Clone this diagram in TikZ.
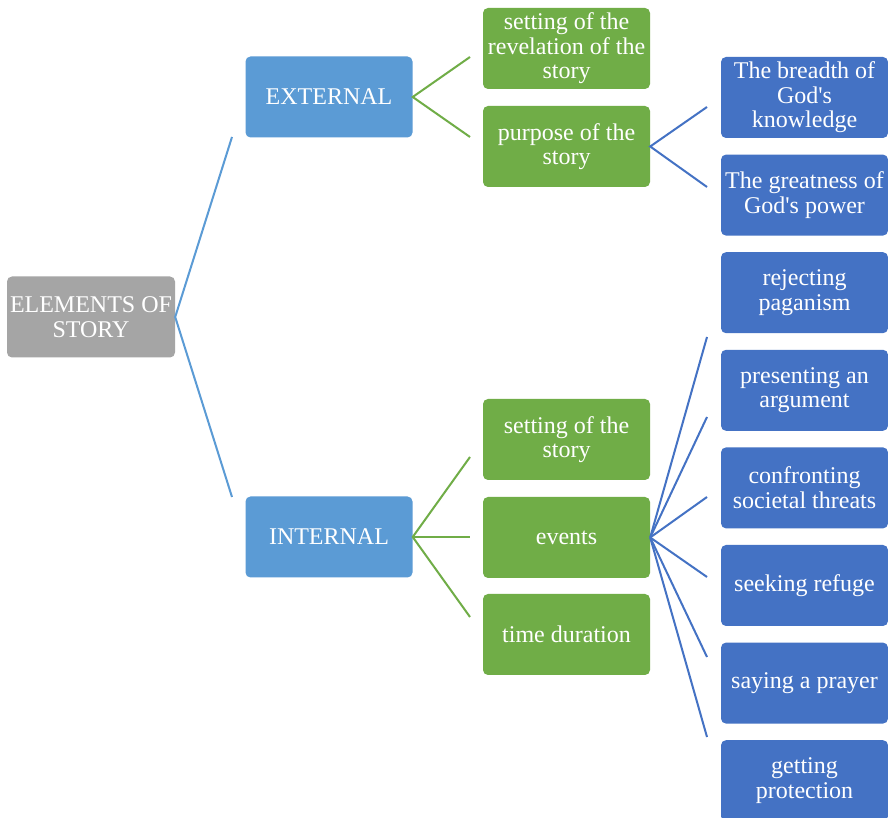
\documentclass[tikz,border=0pt]{standalone}
\usepackage{fontspec}
\setmainfont{Liberation Serif}
\definecolor{cgray}{HTML}{A5A5A5}
\definecolor{clight}{HTML}{5B9BD5}
\definecolor{cgreen}{HTML}{70AD47}
\definecolor{cblue}{HTML}{4472C4}
\tikzset{
  box/.style={rounded corners=5pt, minimum height=81pt, minimum width=167pt, inner xsep=0pt, inner ysep=0pt,
    align=center, text=white, font=\fontsize{24}{24.5}\selectfont},
  rootbox/.style={box, fill=cgray, minimum width=168pt},
  lvlone/.style={box, fill=clight},
  greenbox/.style={box, fill=cgreen},
  bluebox/.style={box, fill=cblue},
  lnk/.style={line width=2pt},
}
\begin{document}
\begin{tikzpicture}[x=1pt,y=1pt]
\clip (0,0) rectangle (888,818);
\fill[white] (0,0) rectangle (888,818);
% nodes
\node[rootbox] (root) at (91,501) {ELEMENTS OF\\STORY};
\node[lvlone] (ext) at (329,721) {EXTERNAL};
\node[lvlone] (int) at (329,281) {INTERNAL};
\node[greenbox] (rev) at (566.5,769.5) {setting of the\\revelation of the\\story};
\node[greenbox] (pur) at (566.5,671.5) {purpose of the\\story};
\node[greenbox] (set) at (566.5,378.5) {setting of the\\story};
\node[greenbox] (evt) at (566.5,280.5) {events};
\node[greenbox] (tim) at (566.5,183.5) {time duration};
\node[bluebox] (b1) at (804.5,720.5) {The breadth of\\God\textquotesingle s\\knowledge};
\node[bluebox] (b2) at (804.5,622.9) {The greatness of\\God\textquotesingle s power};
\node[bluebox] (b3) at (804.5,525.3) {rejecting\\paganism};
\node[bluebox] (b4) at (804.5,427.7) {presenting an\\argument};
\node[bluebox] (b5) at (804.5,330.1) {confronting\\societal threats};
\node[bluebox] (b6) at (804.5,232.5) {seeking refuge};
\node[bluebox] (b7) at (804.5,134.9) {saying a prayer};
\node[bluebox] (b8) at (804.5,37.3) {getting\\protection};
% free ends
\coordinate (r1) at (232,681);
\coordinate (r2) at (232,321);
\coordinate (e1) at (470,761);
\coordinate (e2) at (470,681);
\coordinate (i1) at (470,361);
\coordinate (i2) at (470,281);
\coordinate (i3) at (470,201);
\coordinate (p1) at (707,711);
\coordinate (p2) at (707,631);
\coordinate (v1) at (707,481);
\coordinate (v2) at (707,401);
\coordinate (v3) at (707,321);
\coordinate (v4) at (707,241);
\coordinate (v5) at (707,161);
\coordinate (v6) at (707,81);
% connectors
\draw[lnk, clight] (r1) -- (root.east) -- (r2);
\draw[lnk, cgreen] (e1) -- (ext.east) -- (e2);
\draw[lnk, cgreen] (i1) -- (int.east) -- (i3);
\draw[lnk, cgreen] (int.east) -- (i2);
\draw[lnk, cblue] (p1) -- (pur.east) -- (p2);
\foreach \c in {v1,v2,v3,v4,v5,v6} \draw[lnk, cblue] (evt.east) -- (\c);
\end{tikzpicture}
\end{document}
